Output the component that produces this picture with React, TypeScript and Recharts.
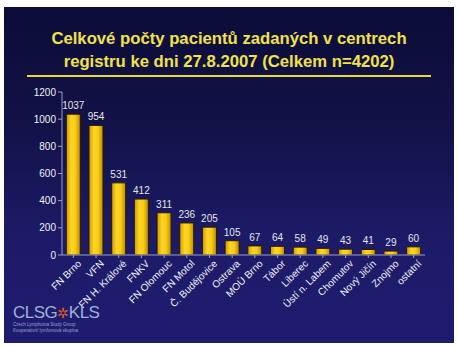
import { BarChart, Bar, XAxis, YAxis, LabelList, Cell } from 'recharts';

const centres = [
  'FN Brno', 'VFN', 'FN H. Králové', 'FNKV', 'FN Olomouc', 'FN Motol', 'Č. Budějovice',
  'Ostrava', 'MOÚ Brno', 'Tábor', 'Liberec', 'Ústí n. Labem', 'Chomutov', 'Nový Jičín',
  'Znojmo', 'ostatní',
];
const patients = [1037, 954, 531, 412, 311, 236, 205, 105, 67, 64, 58, 49, 43, 41, 29, 60];
const yTicks = [0, 200, 400, 600, 800, 1000, 1200];

const data = centres.map((name, i) => ({ name, value: patients[i] }));

const FONT = '"Liberation Sans", Arial, sans-serif';

const CategoryTick = ({ x, y, payload }: { x?: number; y?: number; payload?: { value: string } }) => (
  <text
    x={x}
    y={y}
    dx={3}
    dy={9}
    transform={`rotate(-45, ${x}, ${y})`}
    textAnchor="end"
    fill="#f2f2f2"
    fontSize={10}
    fontFamily={FONT}
  >
    {payload?.value}
  </text>
);

export default function App() {
  return (
    <div style={{ position: 'absolute', left: 0, top: 0, width: 458, height: 347, background: '#fff', overflow: 'hidden' }}>
      {/* slide background */}
      <div
        style={{
          position: 'absolute', left: 4, top: 7, width: 450, height: 336,
          background: 'linear-gradient(180deg, #0c0c38 0%, #121248 35%, #1d1b68 70%, #1f1c70 100%)',
        }}
      />
      {/* title */}
      <div
        style={{
          position: 'absolute', left: 0, top: 27, width: 458, textAlign: 'center',
          color: '#f1e24a', fontFamily: FONT, fontWeight: 'bold', fontSize: 16.7, lineHeight: '23px',
        }}
      >
        Celkové počty pacientů zadaných v centrech<br />registru ke dni 27.8.2007 (Celkem n=4202)
      </div>
      <div style={{ position: 'absolute', left: 27, top: 75, width: 404, height: 2, background: '#e8d840' }} />

      <div style={{ position: 'absolute', left: 0, top: 0 }}>
        <BarChart
          width={458}
          height={347}
          data={data}
          margin={{ top: 92, right: 33, bottom: 0, left: 0 }}
          barCategoryGap="19%"
        >
          <defs>
            <linearGradient id="gold" x1="0" y1="0" x2="1" y2="0">
              <stop offset="0%" stopColor="#c99a06" />
              <stop offset="35%" stopColor="#ffd524" />
              <stop offset="65%" stopColor="#f9cb16" />
              <stop offset="100%" stopColor="#b88a05" />
            </linearGradient>
          </defs>
          <XAxis
            dataKey="name"
            interval={0}
            height={92}
            tick={<CategoryTick />}
            axisLine={{ stroke: '#9aa0c8' }}
            tickLine={{ stroke: '#9aa0c8' }}
            tickSize={3}
          />
          <YAxis
            width={62}
            domain={[0, 1200]}
            ticks={yTicks}
            interval={0}
            tick={{ fill: '#f2f2f2', fontSize: 10, fontFamily: FONT }}
            axisLine={{ stroke: '#9aa0c8' }}
            tickLine={{ stroke: '#9aa0c8' }}
            tickSize={4}
          />
          <Bar dataKey="value" isAnimationActive={false} stroke="#2a1a00" strokeWidth={1}>
            {data.map((d) => (
              <Cell key={d.name} fill="url(#gold)" />
            ))}
            <LabelList
              dataKey="value"
              position="top"
              offset={5}
              fill="#e6e6e6"
              fontSize={10}
              fontFamily={FONT}
            />
          </Bar>
        </BarChart>
      </div>

      {/* logo */}
      <div style={{ position: 'absolute', left: 13, top: 304, fontFamily: FONT, color: '#9db3d8' }}>
        <div style={{ fontSize: 17, lineHeight: '18px', letterSpacing: -0.5 }}>
          CLSG<span style={{ color: '#e05a2a', fontSize: 14 }}>✲</span>KLS
        </div>
        <div style={{ fontSize: 4.5, lineHeight: '6px', color: '#8fa4cc' }}>Czech Lymphoma Study Group</div>
        <div style={{ fontSize: 4.5, lineHeight: '6px', color: '#8fa4cc' }}>Kooperativní lymfomová skupina</div>
      </div>
    </div>
  );
}
